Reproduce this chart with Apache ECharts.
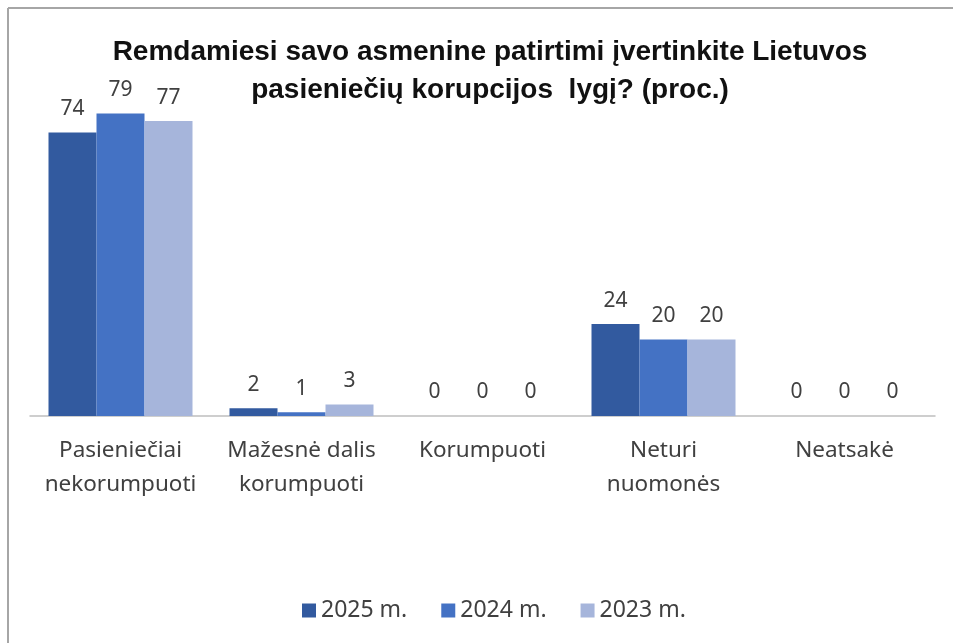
<!DOCTYPE html>
<html>
<head>
<meta charset="utf-8">
<script src="https://cdn.jsdelivr.net/npm/echarts@6/dist/echarts.min.js"></script>
<style>
html,body{margin:0;padding:0;background:#fff;}
#chart{width:953px;height:643px;}
</style>
</head>
<body>
<div id="chart"></div>
<script>
// data
var categories=['Pasieniečiai\nnekorumpuoti','Mažesnė dalis\nkorumpuoti','Korumpuoti','Neturi\nnuomonės','Neatsakė'];
var seriesNames=['2025 m.','2024 m.','2023 m.'];
var v2025=[74,2,0,24,0];
var v2024=[79,1,0,20,0];
var v2023=[77,3,0,20,0];
var colors=['#325A9F','#4472C4','#A6B5DB'];

var chart=echarts.init(document.getElementById('chart'));

function mk(name,data,i){
	return {
		name:name,type:'bar',data:data,
		barWidth:48,barGap:'0%',
		itemStyle:{color:colors[i]},
		label:{show:true,position:'top',distance:13,color:'#404040',fontSize:21,fontFamily:'Noto Sans'}
	};
}

chart.setOption({
	animation:false,
	title:{
		text:'Remdamiesi savo asmenine patirtimi įvertinkite Lietuvos\npasieniečių korupcijos  lygį? (proc.)',
		left:485,textAlign:'center',top:28,
		textStyle:{fontFamily:'Liberation Sans',fontWeight:'bold',fontSize:28,lineHeight:38,color:'#111'}
	},
	legend:{
		bottom:16,left:297,itemWidth:14,itemHeight:14,itemGap:34,
		icon:'rect',
		textStyle:{fontFamily:'Noto Sans',fontSize:23,color:'#404040'}
	},
	grid:{left:30,right:18,top:33,bottom:227,containLabel:false},
	xAxis:{
		type:'category',data:categories,
		axisLine:{lineStyle:{color:'#bfbfbf',width:1.5}},
		axisTick:{show:false},
		axisLabel:{color:'#404040',fontFamily:'Noto Sans',fontSize:22.5,lineHeight:34,margin:18,interval:0}
	},
	yAxis:{type:'value',min:0,max:100,show:false,splitLine:{show:false}},
	graphic:[
		{type:'line',shape:{x1:8,y1:8,x2:953,y2:8},style:{stroke:'#a6a6a6',lineWidth:2}},
		{type:'line',shape:{x1:8,y1:8,x2:8,y2:643},style:{stroke:'#a6a6a6',lineWidth:2}}
	],
	series:[mk(seriesNames[0],v2025,0),mk(seriesNames[1],v2024,1),mk(seriesNames[2],v2023,2)]
});
</script>
</body>
</html>
